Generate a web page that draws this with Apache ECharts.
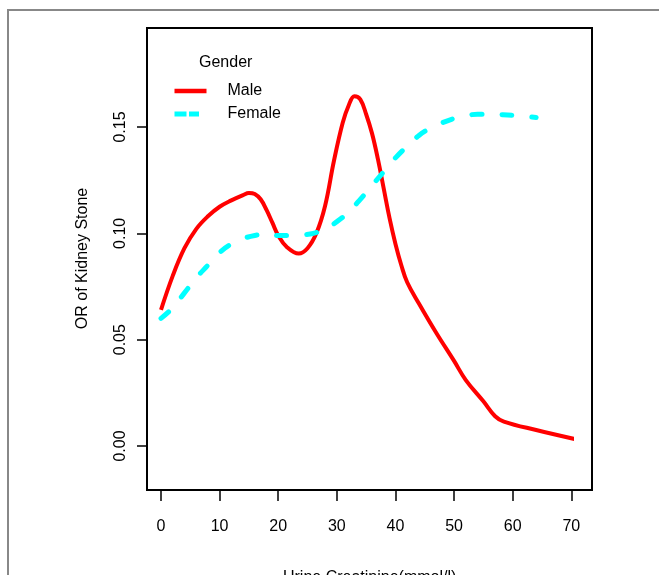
<!DOCTYPE html>
<html>
<head>
<meta charset="utf-8">
<script src="https://cdn.jsdelivr.net/npm/echarts@6/dist/echarts.min.js"></script>
<style>
  html, body { margin: 0; padding: 0; background: #fff; }
  #chart { width: 659px; height: 575px; }
</style>
</head>
<body>
<div id="chart"></div>
<script>
// data
const xTicks = [0, 10, 20, 30, 40, 50, 60, 70]
const yTicks = [0.00, 0.05, 0.10, 0.15]

const maleX = [0, 2, 4, 6, 8, 10, 12, 14, 15, 16, 17, 18, 19, 20, 21.5, 23.5, 25, 26.5, 28, 29.5, 31, 32, 33, 34, 35, 36, 37, 38, 39, 40, 41, 42, 44, 47, 50, 52, 55, 57, 58.5, 64, 71]
const maleY = [0.064, 0.080, 0.093, 0.102, 0.108, 0.1125, 0.1155, 0.118, 0.119, 0.1185, 0.116, 0.111, 0.105, 0.099, 0.0935, 0.0905, 0.093, 0.100, 0.113, 0.134, 0.152, 0.160, 0.1645, 0.163, 0.156, 0.147, 0.135, 0.121, 0.107, 0.095, 0.085, 0.077, 0.067, 0.053, 0.040, 0.031, 0.021, 0.014, 0.0115, 0.0075, 0.003]

const femaleX = [0, 2, 4, 6, 8, 10, 12, 14, 16, 18, 20, 22, 24, 26, 28, 30, 32, 34, 36, 38, 40, 42, 44, 46, 48, 50, 52, 54, 56, 58, 60, 62, 64]
const femaleY = [0.060, 0.065, 0.072, 0.079, 0.085, 0.091, 0.095, 0.0975, 0.099, 0.0995, 0.099, 0.099, 0.0993, 0.100, 0.102, 0.1055, 0.110, 0.116, 0.1225, 0.129, 0.1355, 0.141, 0.146, 0.1495, 0.152, 0.154, 0.1553, 0.156, 0.156, 0.1558, 0.1555, 0.155, 0.1545]

const pairs = (xs, ys) => xs.map((x, i) => [x, ys[i]])

const FONT = 'Liberation Sans, Arial, sans-serif'

const chart = echarts.init(document.getElementById('chart'), null, { renderer: 'canvas' })

const option = {
  animation: false,
  backgroundColor: '#fff',
  title: {
    text: 'Gender',
    left: 199,
    top: 55,
    padding: 0,
    textStyle: { fontFamily: FONT, fontSize: 16, fontWeight: 'normal', color: '#000' }
  },
  legend: {
    left: 172,
    top: 83,
    padding: 0,
    orient: 'vertical',
    itemWidth: 32,
    itemHeight: 14,
    itemGap: 7,
    itemStyle: { opacity: 0 },
    textStyle: { fontFamily: FONT, fontSize: 16, color: '#000', padding: [0, 0, 0, 16] },
    data: [
      { name: 'Male', lineStyle: { width: 4.5 } },
      { name: 'Female', lineStyle: { width: 5, type: [12, 2.5, 10, 100], cap: 'butt' } }
    ]
  },
  grid: {
    left: 161,
    right: 87.7,
    top: 127,
    bottom: 129,
    outerBoundsMode: 'none',
    containLabel: false
  },
  xAxis: {
    type: 'value',
    min: xTicks[0],
    max: xTicks[xTicks.length - 1],
    interval: 10,
    offset: 44,
    name: 'Urine Creatinine(mmol/l)',
    nameLocation: 'middle',
    nameGap: 80,
    nameTextStyle: { fontFamily: FONT, fontSize: 16, color: '#000', padding: [0, 0, 0, 7] },
    axisLine: { show: true, onZero: false, lineStyle: { color: '#000', width: 1.5 } },
    axisTick: { show: true, length: 11, lineStyle: { color: '#000', width: 1.5 } },
    axisLabel: { fontFamily: FONT, fontSize: 16, color: '#000', margin: 29 },
    splitLine: { show: false }
  },
  yAxis: {
    type: 'value',
    min: yTicks[0],
    max: yTicks[yTicks.length - 1],
    interval: 0.05,
    offset: 14,
    name: 'OR of Kidney Stone',
    nameLocation: 'middle',
    nameGap: 56,
    // name is centred on the box (not the 0..0.15 range)
    nameTextStyle: { fontFamily: FONT, fontSize: 16, color: '#000', padding: [0, 0, 0, 56] },
    axisLine: { show: true, onZero: false, lineStyle: { color: '#000', width: 1.5 } },
    axisTick: { show: true, length: 10, lineStyle: { color: '#000', width: 1.5 } },
    axisLabel: {
      fontFamily: FONT, fontSize: 16, color: '#000', margin: 18, rotate: 90,
      formatter: v => v.toFixed(2)
    },
    splitLine: { show: false }
  },
  graphic: [
    // plot box
    {
      type: 'rect',
      shape: { x: 147, y: 28, width: 445, height: 462 },
      style: { fill: 'none', stroke: '#000', lineWidth: 2 },
      z: 10
    },
    // outer figure frame
    {
      type: 'polyline',
      shape: { points: [[8, 600], [8, 10], [700, 10]] },
      style: { fill: 'none', stroke: '#888', lineWidth: 2 },
      z: 10
    }
  ],
  series: [
    {
      name: 'Male',
      type: 'line',
      data: pairs(maleX, maleY),
      smooth: 0.4,
      symbol: 'none',
      clip: false,
      lineStyle: { color: '#ff0000', width: 4 },
      itemStyle: { color: '#ff0000' }
    },
    {
      name: 'Female',
      type: 'line',
      data: pairs(femaleX, femaleY),
      smooth: 0.4,
      symbol: 'none',
      clip: false,
      lineStyle: { color: '#00ffff', width: 5, type: [10, 20], cap: 'round' },
      itemStyle: { color: '#00ffff' }
    }
  ]
}

chart.setOption(option)
window.addEventListener('resize', chart.resize)
</script>
</body>
</html>
